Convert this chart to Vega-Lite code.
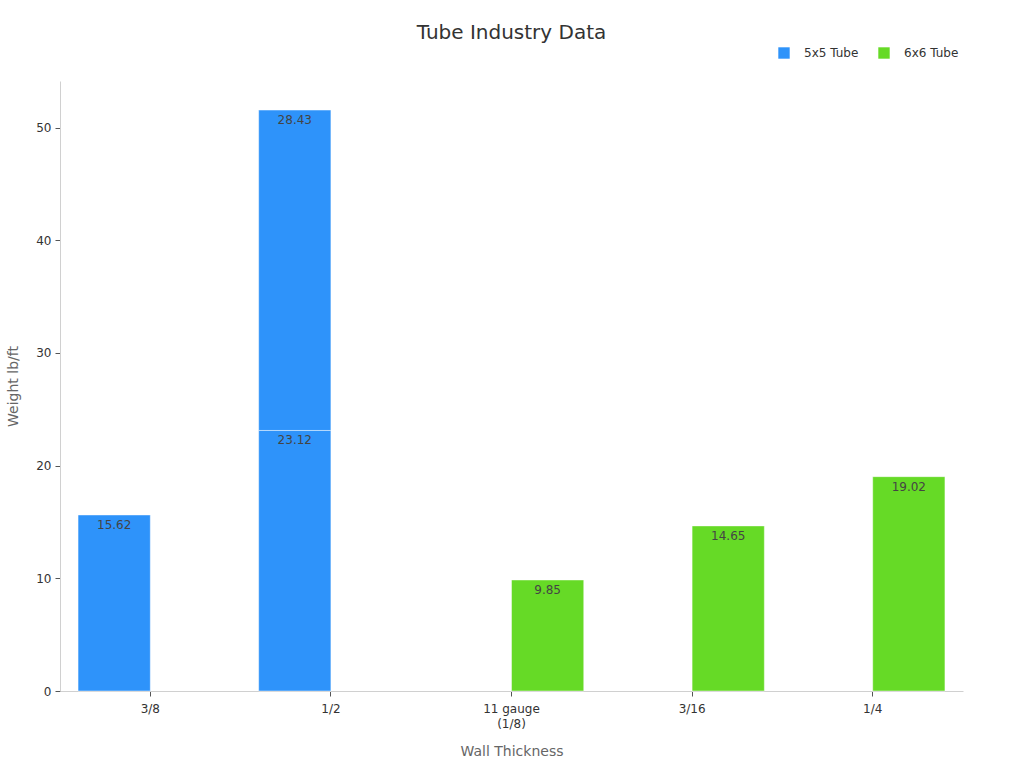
{
  "$schema": "https://vega.github.io/schema/vega-lite/v6.json",
  "autosize": "none",
  "width": 903,
  "height": 610,
  "padding": {"left": 60, "top": 81, "right": 61, "bottom": 77},
  "background": "#ffffff",
  "title": {"text": "Tube Industry Data", "fontSize": 20, "font": "DejaVu Sans", "fontWeight": "normal", "color": "#333333", "anchor": "middle", "offset": 4},
  "config": {"view": {"stroke": null}, "font": "DejaVu Sans"},
  "data": {"values": [
    {"thickness": "3/8", "series": "5x5 Tube", "weight": 15.62, "seq": 1},
    {"thickness": "1/2", "series": "5x5 Tube", "weight": 23.12, "seq": 1},
    {"thickness": "1/2", "series": "5x5 Tube", "weight": 28.43, "seq": 2},
    {"thickness": "11 gauge (1/8)", "series": "6x6 Tube", "weight": 9.85, "seq": 1},
    {"thickness": "3/16", "series": "6x6 Tube", "weight": 14.65, "seq": 1},
    {"thickness": "1/4", "series": "6x6 Tube", "weight": 19.02, "seq": 1}
  ]},
  "encoding": {
    "x": {"field": "thickness", "type": "nominal", "sort": ["3/8", "1/2", "11 gauge (1/8)", "3/16", "1/4"],
      "scale": {"paddingInner": 0.2, "paddingOuter": 0.1},
      "axis": {"title": "Wall Thickness", "titleFontSize": 14, "titleColor": "#666666", "titleFontWeight": "normal", "titlePadding": 15,
        "labelAngle": 0, "labelFontSize": 12, "labelColor": "#333333", "labelPadding": 7, "labelLineHeight": 15,
        "labelExpr": "datum.value == '11 gauge (1/8)' ? ['11 gauge', '(1/8)'] : datum.value",
        "domainColor": "#d0d0d0", "tickColor": "#555555", "tickSize": 5, "grid": false}},
    "xOffset": {"field": "series", "type": "nominal", "scale": {"domain": ["5x5 Tube", "6x6 Tube"], "padding": 0}},
    "y": {"field": "weight", "type": "quantitative", "stack": "zero",
      "scale": {"domain": [0, 54.13], "nice": false},
      "axis": {"title": "Weight lb/ft", "titleFontSize": 14, "titleColor": "#666666", "titleFontWeight": "normal", "titlePadding": 15,
        "values": [0, 10, 20, 30, 40, 50], "labelFontSize": 12, "labelColor": "#333333", "labelPadding": 4,
        "domainColor": "#d0d0d0", "tickColor": "#555555", "tickSize": 5, "grid": false}},
    "order": {"field": "seq", "type": "quantitative"}
  },
  "layer": [
    {"mark": {"type": "bar", "stroke": "#ffffff", "strokeOpacity": 0.45, "strokeWidth": 1},
      "encoding": {"color": {"field": "series", "type": "nominal",
        "scale": {"domain": ["5x5 Tube", "6x6 Tube"], "range": ["#2E93fA", "#66DA26"]},
        "legend": {"title": null, "orient": "none", "direction": "horizontal", "legendX": 718, "legendY": -34,
          "symbolType": "square", "symbolSize": 130, "symbolStrokeWidth": 0, "labelFontSize": 12, "labelColor": "#333333",
          "labelOffset": 14, "columnPadding": 19}}}},
    {"mark": {"type": "text", "baseline": "top", "dy": 5, "fontSize": 12, "color": "#444444"},
      "encoding": {"text": {"field": "weight", "type": "quantitative", "format": ".2f"}}}
  ]
}
